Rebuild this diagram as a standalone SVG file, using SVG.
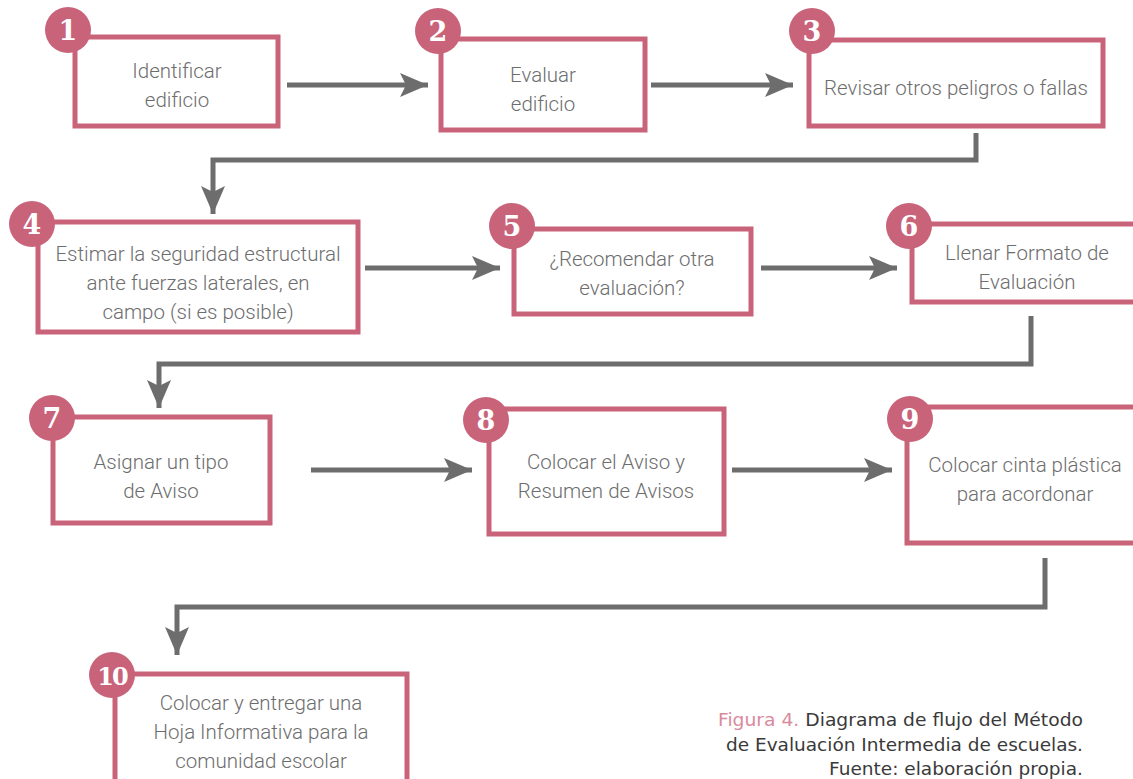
<svg xmlns="http://www.w3.org/2000/svg" width="1133" height="779" viewBox="0 0 1133 779">
<style>
.box{fill:#fff;stroke:#c9637a;stroke-width:5}
.badge{fill:#c9637a}
.num{font-family:"DejaVu Serif",serif;font-weight:bold;font-size:27px;fill:#fff;text-anchor:middle}
.t{font-family:Roboto,"Liberation Sans",sans-serif;font-weight:300;font-size:20.5px;fill:#6d6d6d;text-anchor:middle}
.c{fill:none;stroke:#6d6d6d;stroke-width:5}
.cap{font-family:"DejaVu Sans","Liberation Sans",sans-serif;font-size:17.5px;fill:#3a3a3a}
</style>
<defs>
<marker id="ah" markerUnits="userSpaceOnUse" markerWidth="30" markerHeight="24" refX="28" refY="12" orient="auto">
<path d="M0,0 L28,12 L0,24 L6,12 Z" fill="#6d6d6d"/>
</marker>
</defs>
<rect width="1133" height="779" fill="#fff"/>
<g id="connectors">
<path class="c" d="M287,85 H428" marker-end="url(#ah)"/>
<path class="c" d="M651,85 H793" marker-end="url(#ah)"/>
<path class="c" d="M976,133 V160 H213 V214" marker-end="url(#ah)"/>
<path class="c" d="M365,268 H500" marker-end="url(#ah)"/>
<path class="c" d="M761,268 H897" marker-end="url(#ah)"/>
<path class="c" d="M1031,316 V364 H159 V408" marker-end="url(#ah)"/>
<path class="c" d="M311,470 H472" marker-end="url(#ah)"/>
<path class="c" d="M732,470 H892" marker-end="url(#ah)"/>
<path class="c" d="M1045,558 V607 H177 V655" marker-end="url(#ah)"/>
</g>
<g id="n1"><rect class="box" x="75" y="37" width="203" height="89"/><circle class="badge" cx="68" cy="30" r="23"/><text class="num" x="68" y="40">1</text><text class="t" x="177" y="78">Identificar</text><text class="t" x="177" y="107">edificio</text></g>
<g id="n2"><rect class="box" x="441" y="39" width="204" height="91"/><circle class="badge" cx="438" cy="31" r="23"/><text class="num" x="438" y="41">2</text><text class="t" x="543" y="82">Evaluar</text><text class="t" x="543" y="111">edificio</text></g>
<g id="n3"><rect class="box" x="809" y="40" width="294" height="86"/><circle class="badge" cx="812" cy="31" r="23"/><text class="num" x="812" y="41">3</text><text class="t" x="956" y="95">Revisar otros peligros o fallas</text></g>
<g id="n4"><rect class="box" x="38" y="222" width="320" height="110"/><circle class="badge" cx="32" cy="224" r="23"/><text class="num" x="32" y="234">4</text><text class="t" x="198" y="261">Estimar la seguridad estructural</text><text class="t" x="198" y="290">ante fuerzas laterales, en</text><text class="t" x="198" y="319">campo (si es posible)</text></g>
<g id="n5"><rect class="box" x="514" y="229" width="237" height="85"/><circle class="badge" cx="512" cy="226" r="23"/><text class="num" x="512" y="236">5</text><text class="t" x="632" y="266">¿Recomendar otra</text><text class="t" x="632" y="295">evaluación?</text></g>
<g id="n6"><rect class="box" x="912" y="224" width="230" height="78"/><circle class="badge" cx="909" cy="226" r="23"/><text class="num" x="909" y="236">6</text><text class="t" x="1027" y="260">Llenar Formato de</text><text class="t" x="1027" y="289">Evaluación</text></g>
<g id="n7"><rect class="box" x="53" y="417" width="217" height="106"/><circle class="badge" cx="52" cy="418" r="23"/><text class="num" x="52" y="428">7</text><text class="t" x="161" y="469">Asignar un tipo</text><text class="t" x="161" y="498">de Aviso</text></g>
<g id="n8"><rect class="box" x="489" y="409" width="235" height="125"/><circle class="badge" cx="486" cy="420" r="23"/><text class="num" x="486" y="430">8</text><text class="t" x="606" y="469">Colocar el Aviso y</text><text class="t" x="606" y="498">Resumen de Avisos</text></g>
<g id="n9"><rect class="box" x="907" y="407" width="235" height="136"/><circle class="badge" cx="910" cy="419" r="23"/><text class="num" x="910" y="429">9</text><text class="t" x="1025" y="472">Colocar cinta plástica</text><text class="t" x="1025" y="501">para acordonar</text></g>
<g id="n10"><rect class="box" x="115" y="674" width="292" height="110"/><circle class="badge" cx="112" cy="675" r="23"/><text class="num" x="112" y="685" style="font-size:24px;letter-spacing:-2px">10</text><text class="t" x="261" y="710">Colocar y entregar una</text><text class="t" x="261" y="739">Hoja Informativa para la</text><text class="t" x="261" y="768">comunidad escolar</text></g>
<g id="caption">
<text class="cap" x="718" y="726" textLength="365" lengthAdjust="spacingAndGlyphs"><tspan fill="#d98a9d">Figura 4.</tspan> Diagrama de flujo del Método</text>
<text class="cap" x="726" y="751" textLength="357" lengthAdjust="spacingAndGlyphs">de Evaluación Intermedia de escuelas.</text>
<text class="cap" x="829" y="775" textLength="254" lengthAdjust="spacingAndGlyphs">Fuente: elaboración propia.</text>
</g>
</svg>
